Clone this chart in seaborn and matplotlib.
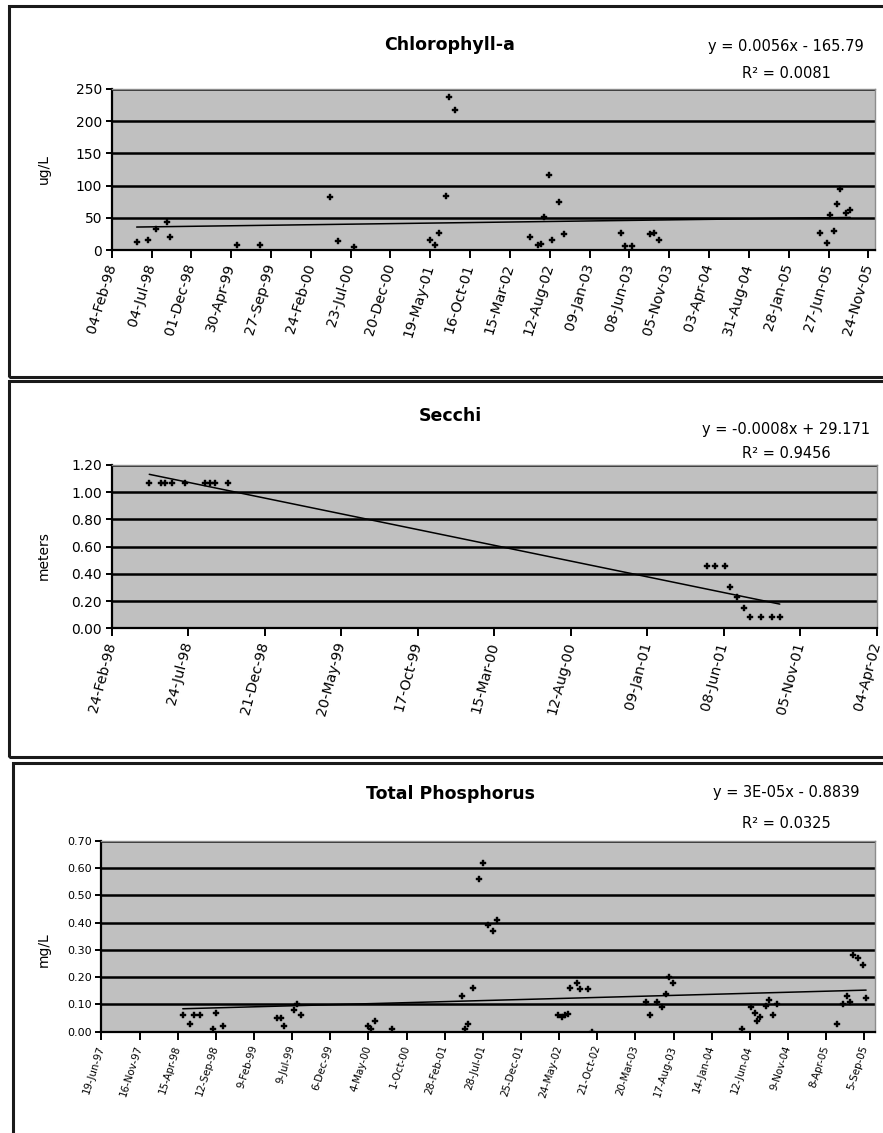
import matplotlib
matplotlib.use("Agg")
import matplotlib.pyplot as plt
from matplotlib.patches import Rectangle
import seaborn as sns
import numpy as np
import pandas as pd

# ---- values ----
chl_dates = ["1998-05-09", "1998-06-20", "1998-07-20", "1998-08-30", "1998-09-12",
             "1999-05-22", "1999-08-17", "2000-05-07", "2000-06-05", "2000-08-06",
             "2001-05-19", "2001-06-04", "2001-06-22", "2001-07-18", "2001-07-30",
             "2001-08-21", "2002-05-31", "2002-06-27", "2002-07-10", "2002-07-23",
             "2002-08-08", "2002-08-20", "2002-09-17", "2002-10-03", "2003-05-07",
             "2003-05-21", "2003-06-18", "2003-08-26", "2003-09-07", "2003-09-26",
             "2005-05-27", "2005-06-22", "2005-07-01", "2005-07-17", "2005-07-27",
             "2005-08-11", "2005-09-02", "2005-09-17"]
chl_vals = [13, 15, 33, 44, 20, 8, 8, 82, 14, 4,
            15, 8, 26, 84, 238, 217, 20, 8, 10, 51,
            116, 16, 74, 25, 27, 6, 6, 25, 26, 16,
            27, 11, 54, 30, 71, 94, 57, 62]
chl_ticks = ["04-Feb-98", "04-Jul-98", "01-Dec-98", "30-Apr-99", "27-Sep-99",
             "24-Feb-00", "23-Jul-00", "20-Dec-00", "19-May-01", "16-Oct-01",
             "15-Mar-02", "12-Aug-02", "09-Jan-03", "08-Jun-03", "05-Nov-03",
             "03-Apr-04", "31-Aug-04", "28-Jan-05", "27-Jun-05", "24-Nov-05"]
chl_yticks = [0, 50, 100, 150, 200, 250]

secchi_dates = ["1998-05-09", "1998-06-02", "1998-06-09", "1998-06-22", "1998-07-18",
                "1998-08-26", "1998-09-05", "1998-09-15", "1998-10-10",
                "2001-05-06", "2001-05-22", "2001-06-11", "2001-06-20", "2001-07-04",
                "2001-07-17", "2001-07-30", "2001-08-20", "2001-09-10", "2001-09-26"]
secchi_vals = [1.07, 1.07, 1.07, 1.07, 1.07, 1.07, 1.07, 1.07, 1.07,
               0.46, 0.46, 0.46, 0.30, 0.23, 0.15, 0.08, 0.08, 0.08, 0.08]
secchi_ticks = ["24-Feb-98", "24-Jul-98", "21-Dec-98", "20-May-99", "17-Oct-99",
                "15-Mar-00", "12-Aug-00", "09-Jan-01", "08-Jun-01", "05-Nov-01",
                "04-Apr-02"]
secchi_yticks = [0.0, 0.2, 0.4, 0.6, 0.8, 1.0, 1.2]

tp_dates = ["1998-05-05", "1998-06-02", "1998-06-18", "1998-07-12", "1998-09-02",
            "1998-09-11", "1998-10-11", "1999-05-12", "1999-05-25", "1999-06-07",
            "1999-07-16", "1999-07-29", "1999-08-13", "2000-05-04", "2000-05-14",
            "2000-05-30", "2000-08-04", "2001-05-06", "2001-05-19", "2001-06-01",
            "2001-06-18", "2001-07-14", "2001-07-27", "2001-08-18", "2001-09-07",
            "2001-09-20", "2002-05-21", "2002-06-03", "2002-06-16", "2002-06-29",
            "2002-07-06", "2002-08-01", "2002-08-14", "2002-09-16", "2002-09-29",
            "2003-05-01", "2003-05-16", "2003-06-12", "2003-07-01", "2003-07-18",
            "2003-07-31", "2003-08-14", "2004-05-11", "2004-06-15", "2004-07-02",
            "2004-07-09", "2004-07-22", "2004-08-14", "2004-08-27", "2004-09-12",
            "2004-09-25", "2005-05-22", "2005-06-14", "2005-06-27", "2005-07-11",
            "2005-07-24", "2005-08-12", "2005-08-30", "2005-09-12"]
tp_vals = [0.06, 0.03, 0.06, 0.06, 0.01, 0.07, 0.02, 0.05, 0.05, 0.02,
           0.08, 0.10, 0.06, 0.02, 0.01, 0.04, 0.01, 0.13, 0.01, 0.03,
           0.16, 0.56, 0.62, 0.39, 0.37, 0.41, 0.06, 0.055, 0.06, 0.065,
           0.16, 0.18, 0.155, 0.155, 0.00, 0.11, 0.06, 0.11, 0.09, 0.14,
           0.20, 0.18, 0.01, 0.09, 0.07, 0.04, 0.055, 0.095, 0.115, 0.06,
           0.10, 0.03, 0.10, 0.13, 0.11, 0.28, 0.27, 0.245, 0.125]
tp_ticks = ["19-Jun-97", "16-Nov-97", "15-Apr-98", "12-Sep-98", "9-Feb-99",
            "9-Jul-99", "6-Dec-99", "4-May-00", "1-Oct-00", "28-Feb-01",
            "28-Jul-01", "25-Dec-01", "24-May-02", "21-Oct-02", "20-Mar-03",
            "17-Aug-03", "14-Jan-04", "12-Jun-04", "9-Nov-04", "8-Apr-05",
            "5-Sep-05"]
tp_yticks = [0.0, 0.1, 0.2, 0.3, 0.4, 0.5, 0.6, 0.7]

titles = ["Chlorophyll-a", "Secchi", "Total Phosphorus"]
ylabels = ["ug/L", "meters", "mg/L"]
equations = ["y = 0.0056x - 165.79", "y = -0.0008x + 29.171", "y = 3E-05x - 0.8839"]
r2_texts = ["R² = 0.0081", "R² = 0.9456", "R² = 0.0325"]

EXCEL0 = pd.Timestamp("1899-12-30")


def serial(d):
    return np.asarray((pd.to_datetime(d) - EXCEL0).days, dtype=float)


def tick_serial(labels):
    return serial(pd.to_datetime(labels, format="%d-%b-%y"))


sns.set_theme(style="ticks")
plt.rcParams["font.family"] = ["DejaVu Sans"]
for k in ["text.color", "axes.labelcolor", "xtick.color", "ytick.color"]:
    plt.rcParams[k] = "black"

W, H = 883, 1133
fig = plt.figure(figsize=(W / 100, H / 100), dpi=100)


def fx(px):
    return px / W


def fy(py):
    return 1 - py / H


def panel(box, dates, vals, ticks, pad_days, yticks, yfmt, xfs, rot, yfs):
    left, top, right, bottom = box
    ax = fig.add_axes([fx(left), fy(bottom), fx(right - left), (bottom - top) / H])
    ax.set_facecolor("#c0c0c0")
    df = pd.DataFrame({"x": serial(dates), "y": vals})
    sns.regplot(data=df, x="x", y="y", ax=ax, scatter=False, ci=None, truncate=True,
                line_kws=dict(color="black", lw=1.1))
    sns.scatterplot(data=df, x="x", y="y", ax=ax, marker="P", s=20,
                    color="black", edgecolor="black", linewidth=0.3, zorder=4)
    tpos = tick_serial(ticks)
    ax.set_xlim(tpos[0], tpos[-1] + pad_days)
    ax.set_ylim(yticks[0], yticks[-1])
    ax.set_xticks(tpos)
    ax.set_xticklabels(ticks, rotation=rot, ha="right", va="center",
                       rotation_mode="anchor", fontsize=xfs)
    ax.set_yticks(yticks)
    ax.set_yticklabels([yfmt.format(v) for v in yticks], fontsize=yfs)
    ax.yaxis.grid(True, color="black", lw=1.8)
    ax.xaxis.grid(False)
    ax.set_axisbelow(True)
    ax.set_xlabel("")
    ax.set_ylabel("")
    for s in ["left", "bottom"]:
        ax.spines[s].set_color("black")
        ax.spines[s].set_linewidth(1.6)
    for s in ["top", "right"]:
        ax.spines[s].set_visible(True)
        ax.spines[s].set_color("#8c8c8c")
        ax.spines[s].set_linewidth(1.0)
    ax.tick_params(axis="x", length=6, width=1.4, pad=4, color="black")
    ax.tick_params(axis="y", length=4, width=1.4, pad=3, color="black")
    return ax


ax1 = panel((111.7, 89, 875, 250), chl_dates, chl_vals, chl_ticks, 25,
            chl_yticks, "{:.0f}", 10.3, 73, 10)
ax2 = panel((111.5, 465, 876.7, 628.3), secchi_dates, secchi_vals, secchi_ticks, 0,
            secchi_yticks, "{:.2f}", 10.3, 75, 10)
ax3 = panel((101.4, 841, 875, 1031.7), tp_dates, tp_vals, tp_ticks, 42,
            tp_yticks, "{:.2f}", 7.4, 72, 8)

# titles, equations, axis labels
title_y = [45, 416, 794]
eq_y = [47, 429, 793]
r2_y = [73, 453, 823]
ylab_y = [169, 556, 950]
for i in range(3):
    fig.text(fx(450), fy(title_y[i]), titles[i], ha="center", va="center",
             fontsize=12.5, fontweight="bold")
    fig.text(fx(786), fy(eq_y[i]), equations[i], ha="center", va="center", fontsize=10.5)
    fig.text(fx(786), fy(r2_y[i]), r2_texts[i], ha="center", va="center", fontsize=10.5)
    fig.text(fx(44), fy(ylab_y[i]), ylabels[i], ha="center", va="center",
             rotation=90, fontsize=10)

# chart borders
borders = [(9, 6, 900, 377), (9, 381, 900, 757), (12.7, 763, 900, 1150)]
for (l, t, r, b) in borders:
    fig.add_artist(Rectangle((fx(l), fy(b)), fx(r - l), (b - t) / H,
                             transform=fig.transFigure, fill=False,
                             ec="#1a1a1a", lw=2.2, clip_on=False))

fig.savefig("out.png", dpi=100)
